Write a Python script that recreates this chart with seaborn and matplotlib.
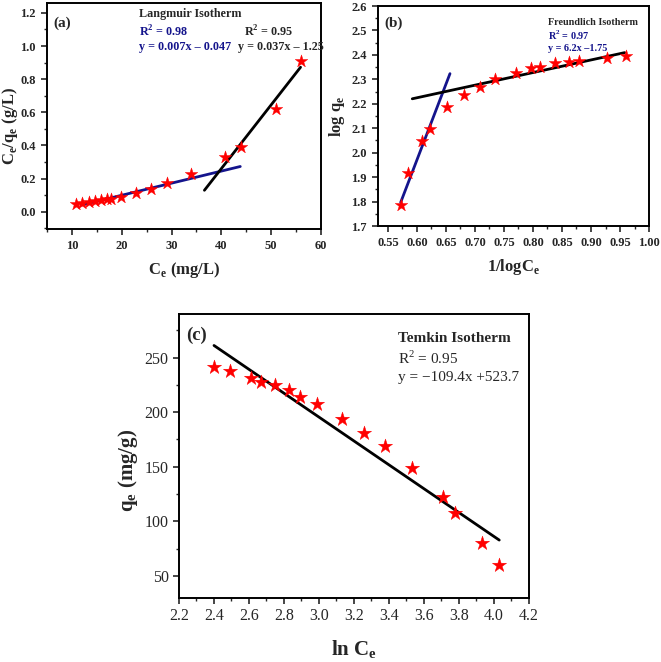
import numpy as np
import pandas as pd
import matplotlib
matplotlib.use('Agg')
import matplotlib.pyplot as plt
from matplotlib.ticker import MultipleLocator
import seaborn as sns

# values
ce = [10.9, 12.1, 13.4, 14.6, 15.8, 17.0, 17.9, 19.8, 22.8, 25.8, 29.1, 33.9, 40.7, 43.9, 50.9, 55.9]
ce_qe = [0.045, 0.050, 0.057, 0.063, 0.068, 0.074, 0.079, 0.091, 0.112, 0.138, 0.172, 0.227, 0.330, 0.393, 0.620, 0.912]

inv_logce = [0.960, 0.927, 0.880, 0.862, 0.838, 0.812, 0.797, 0.770, 0.735, 0.708, 0.681, 0.652, 0.622, 0.608, 0.585, 0.572]
log_qe = [2.395, 2.387, 2.375, 2.370, 2.365, 2.352, 2.345, 2.328, 2.300, 2.268, 2.235, 2.185, 2.095, 2.047, 1.915, 1.787]

ln_ce = [2.40, 2.49, 2.61, 2.67, 2.75, 2.83, 2.89, 2.99, 3.13, 3.26, 3.38, 3.53, 3.71, 3.78, 3.93, 4.03]
qe = [241.5, 237.8, 231.7, 228.0, 224.7, 220.0, 214.0, 207.3, 193.8, 181.0, 169.0, 148.6, 122.0, 108.0, 80.0, 60.0]

# fitted lines: (slope, intercept, x_start, x_end)
fit_a_low = (0.0073, -0.047, 11.9, 43.8)
fit_a_high = (0.0385, -1.28, 36.6, 55.9)
fit_b_low = (6.2, -1.75, 0.572, 0.657)
fit_b_high = (0.516, 1.915, 0.592, 0.958)
fit_c = (-109.4, 523.7, 2.40, 4.03)

red = '#ff0000'
navy = '#14148c'

sns.set_style('ticks')
plt.rcParams['font.family'] = ['Liberation Serif', 'DejaVu Serif']
plt.rcParams['axes.linewidth'] = 1.4
plt.rcParams['xtick.major.width'] = 1.2
plt.rcParams['ytick.major.width'] = 1.2
plt.rcParams['xtick.minor.width'] = 1.0
plt.rcParams['ytick.minor.width'] = 1.0
plt.rcParams['xtick.major.size'] = 4.5
plt.rcParams['ytick.major.size'] = 4.5
plt.rcParams['xtick.minor.size'] = 2.5
plt.rcParams['ytick.minor.size'] = 2.5
plt.rcParams['xtick.direction'] = 'out'
plt.rcParams['ytick.direction'] = 'out'


def fit_line(ax, fit, color):
    k, b, x0, x1 = fit
    xs = np.array([x0, x1])
    line = pd.DataFrame({'x': xs, 'y': k * xs + b})
    sns.lineplot(data=line, x='x', y='y', color=color, lw=2, ax=ax)


def stars(ax, x, y, size):
    sns.scatterplot(x=x, y=y, marker='*', s=size, color=red, edgecolor=red,
                    linewidth=0.3, ax=ax, zorder=3)


def style_ticks(ax, size, weight):
    ax.tick_params(labelsize=size)
    for lab in ax.get_xticklabels() + ax.get_yticklabels():
        lab.set_fontweight(weight)
    for s in ax.spines.values():
        s.set_visible(True)
        s.set_color('black')
    ax.tick_params(top=False, right=False, which='both')


fig = plt.figure(figsize=(6.61, 6.62), dpi=100)

# (a) Langmuir
ax1 = fig.add_axes([0.0711, 0.654, 0.4145, 0.3415])
fit_line(ax1, fit_a_low, navy)
fit_line(ax1, fit_a_high, 'black')
stars(ax1, ce, ce_qe, 90)
ax1.set_xlim(5, 60)
ax1.set_ylim(-0.105, 1.26)
ax1.xaxis.set_major_locator(MultipleLocator(10))
ax1.xaxis.set_minor_locator(MultipleLocator(5))
ax1.yaxis.set_major_locator(MultipleLocator(0.2))
ax1.yaxis.set_minor_locator(MultipleLocator(0.1))
ax1.yaxis.set_major_formatter(lambda v, p: f'{v:.1f}')
style_ticks(ax1, 9, 'bold')
ax1.set_xlabel(r'C$_\mathregular{e}$ (mg/L)', fontsize=12, fontweight='bold', labelpad=6)
ax1.set_ylabel(r'C$_\mathregular{e}$/q$_\mathregular{e}$ (g/L)', fontsize=12, fontweight='bold')
ax1.yaxis.set_label_coords(-0.098, 0.456)
ax1.text(0.025, 0.91, '(a)', transform=ax1.transAxes, fontsize=11, fontweight='bold', va='center')
ax1.text(0.335, 0.95, 'Langmuir Isotherm', transform=ax1.transAxes, fontsize=8.7, fontweight='bold', va='center')
ax1.text(0.335, 0.87, r'R$^\mathregular{2}$ = 0.98', transform=ax1.transAxes, fontsize=8.7, fontweight='bold', color=navy, va='center')
ax1.text(0.335, 0.805, 'y = 0.007x – 0.047', transform=ax1.transAxes, fontsize=8.7, fontweight='bold', color=navy, va='center')
ax1.text(0.72, 0.87, r'R$^\mathregular{2}$ = 0.95', transform=ax1.transAxes, fontsize=8.7, fontweight='bold', va='center')
ax1.text(0.697, 0.805, 'y = 0.037x – 1.25', transform=ax1.transAxes, fontsize=8.7, fontweight='bold', va='center', clip_on=False)

# (b) Freundlich
ax2 = fig.add_axes([0.5719, 0.6586, 0.41, 0.3323])
fit_line(ax2, fit_b_low, navy)
fit_line(ax2, fit_b_high, 'black')
stars(ax2, inv_logce, log_qe, 90)
ax2.set_xlim(0.533, 1.0)
ax2.set_ylim(1.7, 2.6)
ax2.xaxis.set_major_locator(MultipleLocator(0.05))
ax2.xaxis.set_minor_locator(MultipleLocator(0.025))
ax2.yaxis.set_major_locator(MultipleLocator(0.1))
ax2.yaxis.set_minor_locator(MultipleLocator(0.05))
ax2.xaxis.set_major_formatter(lambda v, p: f'{v:.2f}')
ax2.yaxis.set_major_formatter(lambda v, p: f'{v:.1f}')
style_ticks(ax2, 9, 'bold')
ax2.set_xlabel(r'1/logC$_\mathregular{e}$', fontsize=12, fontweight='bold', labelpad=6)
ax2.set_ylabel(r'log q$_\mathregular{e}$', fontsize=12, fontweight='bold')
ax2.yaxis.set_label_coords(-0.114, 0.5)
ax2.text(0.025, 0.92, '(b)', transform=ax2.transAxes, fontsize=11, fontweight='bold', va='center')
ax2.text(0.627, 0.925, 'Freundlich Isotherm', transform=ax2.transAxes, fontsize=7.3, fontweight='bold', va='center')
ax2.text(0.627, 0.865, r'R$^\mathregular{2}$ = 0.97', transform=ax2.transAxes, fontsize=7.3, fontweight='bold', color=navy, va='center')
ax2.text(0.627, 0.805, 'y = 6.2x –1.75', transform=ax2.transAxes, fontsize=7.3, fontweight='bold', color=navy, va='center')

# (c) Temkin
ax3 = fig.add_axes([0.2708, 0.0971, 0.5295, 0.4286])
fit_line(ax3, fit_c, 'black')
stars(ax3, ln_ce, qe, 115)
ax3.set_xlim(2.2, 4.2)
ax3.set_ylim(30, 290)
ax3.xaxis.set_major_locator(MultipleLocator(0.2))
ax3.xaxis.set_minor_locator(MultipleLocator(0.1))
ax3.yaxis.set_major_locator(MultipleLocator(50))
ax3.yaxis.set_minor_locator(MultipleLocator(25))
ax3.xaxis.set_major_formatter(lambda v, p: f'{v:.1f}')
ax3.yaxis.set_major_formatter(lambda v, p: f'{v:.0f}')
style_ticks(ax3, 11.5, 'normal')
ax3.tick_params(which='major', length=4)
ax3.set_xlabel(r'ln C$_\mathregular{e}$', fontsize=15, fontweight='bold', labelpad=10)
ax3.set_ylabel(r'q$_\mathregular{e}$ (mg/g)', fontsize=15, fontweight='bold')
ax3.yaxis.set_label_coords(-0.111, 0.447)
ax3.text(0.02, 0.925, '(c)', transform=ax3.transAxes, fontsize=13.5, fontweight='bold', va='center')
ax3.text(0.625, 0.915, 'Temkin Isotherm', transform=ax3.transAxes, fontsize=11, fontweight='bold', va='center')
ax3.text(0.625, 0.845, r'R$^\mathregular{2}$ = 0.95', transform=ax3.transAxes, fontsize=11, va='center')
ax3.text(0.625, 0.775, 'y = −109.4x +523.7', transform=ax3.transAxes, fontsize=11, va='center')

for ax in (ax1, ax2, ax3):
    leg = ax.get_legend()
    if leg is not None:
        leg.remove()

fig.savefig('out.png', dpi=100)
